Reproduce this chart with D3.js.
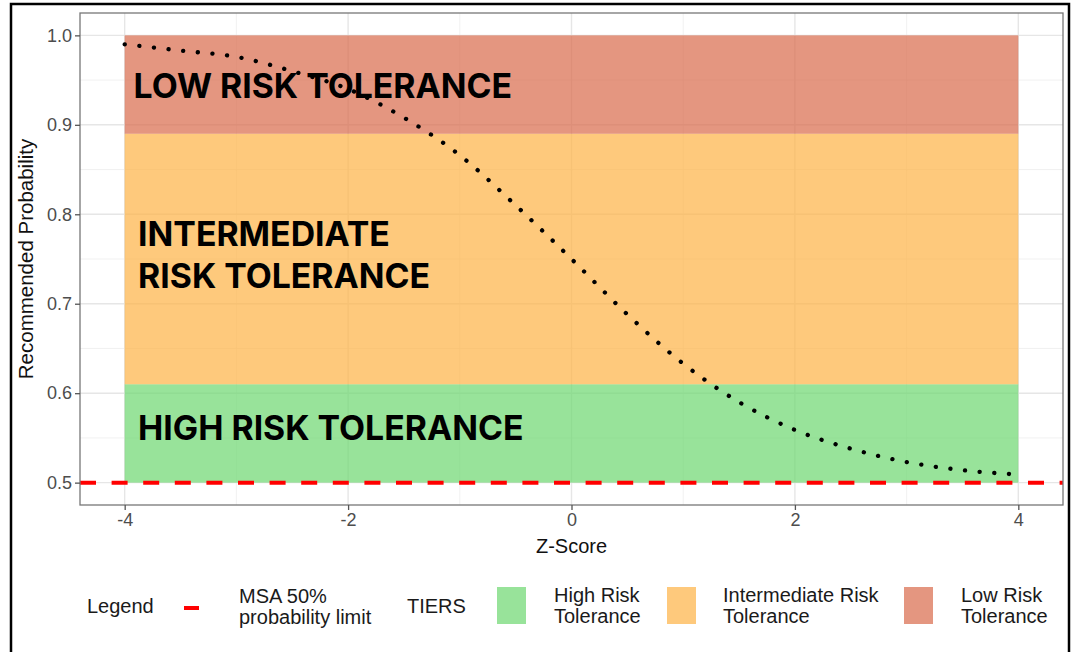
<!DOCTYPE html>
<html>
<head>
<meta charset="utf-8">
<script src="https://cdn.jsdelivr.net/npm/d3@7"></script>
<style>
  body { margin: 0; background: #fff; }
  svg { display: block; font-family: "Liberation Sans", Arial, sans-serif; }
</style>
</head>
<body>
<div id="chart"></div>
<script>
// curve
const zScores = [-4, -3.5, -3, -2.5, -2, -1.5, -1, -0.5, 0, 0.5, 1, 1.5, 2, 2.5, 3, 3.5, 4];
const recProb = [0.990, 0.983, 0.976, 0.960, 0.940, 0.908, 0.866, 0.810, 0.750,
                 0.688, 0.633, 0.590, 0.559, 0.538, 0.523, 0.514, 0.509];

// tiers
const tierNames = ["High Risk Tolerance", "Intermediate Risk Tolerance", "Low Risk Tolerance"];
const tierLow = [0.5, 0.61, 0.89];
const tierHigh = [0.61, 0.89, 1.0];
const tierZ = [-4, 4];
const tierLabels = [["HIGH RISK TOLERANCE"], ["INTERMEDIATE", "RISK TOLERANCE"], ["LOW RISK TOLERANCE"]];

const msaLimit = 0.5;
const xTicks = [-4, -2, 0, 2, 4];
const yTicks = [0.5, 0.6, 0.7, 0.8, 0.9, 1.0];
const xMinor = [-3, -1, 1, 3];
const yMinor = [0.55, 0.65, 0.75, 0.85, 0.95];

const w = 1074, h = 652;
const tierColors = ["#6cd76f", "#feb244", "#d8694a"];
const tierAlpha = 0.7;

const svg = d3.select("#chart").append("svg").attr("width", w).attr("height", h);

// outer frame
svg.append("rect").attr("x", 11).attr("y", 4).attr("width", 1058).attr("height", 700)
  .attr("fill", "none").attr("stroke", "#000").attr("stroke-width", 2.5);

const xScale = d3.scaleLinear().domain([-4.4, 4.4]).range([80, 1063]);
const yScale = d3.scaleLinear().domain([0.475, 1.025]).range([505, 13]);

// grid
const grid = svg.append("g");
grid.selectAll(".gx").data(xMinor).enter().append("line")
  .attr("x1", d => xScale(d)).attr("x2", d => xScale(d)).attr("y1", 13).attr("y2", 505)
  .attr("stroke", "#ebebeb").attr("stroke-width", 0.7);
grid.selectAll(".gy").data(yMinor).enter().append("line")
  .attr("y1", d => yScale(d)).attr("y2", d => yScale(d)).attr("x1", 80).attr("x2", 1063)
  .attr("stroke", "#ebebeb").attr("stroke-width", 0.7);
grid.selectAll(".gX").data(xTicks).enter().append("line")
  .attr("x1", d => xScale(d)).attr("x2", d => xScale(d)).attr("y1", 13).attr("y2", 505)
  .attr("stroke", "#e6e6e6").attr("stroke-width", 1.4);
grid.selectAll(".gY").data(yTicks).enter().append("line")
  .attr("y1", d => yScale(d)).attr("y2", d => yScale(d)).attr("x1", 80).attr("x2", 1063)
  .attr("stroke", "#e6e6e6").attr("stroke-width", 1.4);

// tier bands
svg.selectAll(".band").data(tierNames).enter().append("rect")
  .attr("x", xScale(tierZ[0])).attr("width", xScale(tierZ[1]) - xScale(tierZ[0]))
  .attr("y", (d, i) => yScale(tierHigh[i]))
  .attr("height", (d, i) => yScale(tierLow[i]) - yScale(tierHigh[i]))
  .attr("fill", (d, i) => tierColors[i]).attr("fill-opacity", tierAlpha);

// band labels
const labelPos = [[-3.88, 0.548], [-3.88, 0.764], [-3.92, 0.930]];
tierLabels.forEach((lines, i) => {
  const t = svg.append("text")
    .attr("x", xScale(labelPos[i][0])).attr("y", yScale(labelPos[i][1]))
    .attr("font-family", "Inter, 'Open Sans', sans-serif").attr("font-weight", 700)
    .attr("font-size", 33.8).attr("fill", "#000");
  lines.forEach((ln, j) => {
    t.append("tspan").attr("x", xScale(labelPos[i][0])).attr("dy", j ? 42 : 0).text(ln);
  });
});

// MSA limit
svg.append("line")
  .attr("x1", 80).attr("x2", 1063).attr("y1", yScale(msaLimit)).attr("y2", yScale(msaLimit))
  .attr("stroke", "#ff0000").attr("stroke-width", 4).attr("stroke-dasharray", "16 15.6");

// dotted curve
const line = d3.line().x((d, i) => xScale(zScores[i])).y(d => yScale(d)).curve(d3.curveMonotoneX);
svg.append("path").datum(recProb).attr("d", line)
  .attr("fill", "none").attr("stroke", "#000").attr("stroke-width", 4.3)
  .attr("stroke-linecap", "round").attr("stroke-dasharray", "0.1 14.6");

// panel border
svg.append("rect").attr("x", 80).attr("y", 13).attr("width", 983).attr("height", 492)
  .attr("fill", "none").attr("stroke", "#777").attr("stroke-width", 1.3);

// axes
const xAxis = d3.axisBottom(xScale).tickValues(xTicks).tickSize(5).tickPadding(3).tickFormat(d3.format("d"));
const yAxis = d3.axisLeft(yScale).tickValues(yTicks).tickSize(5).tickPadding(3).tickFormat(d3.format(".1f"));

const gx = svg.append("g").attr("transform", "translate(0,505)").call(xAxis);
const gy = svg.append("g").attr("transform", "translate(80,0)").call(yAxis);
[gx, gy].forEach(g => {
  g.select(".domain").remove();
  g.selectAll(".tick line").attr("stroke", "#555").attr("stroke-width", 1.3);
  g.selectAll(".tick text").attr("fill", "#4d4d4d").attr("font-size", 18)
    .attr("font-family", "'Liberation Sans', Arial, sans-serif");
});
gx.selectAll(".tick text").text(d => d < 0 ? "-" + Math.abs(d) : d);

// axis titles
svg.append("text").attr("x", xScale(0)).attr("y", 553).attr("text-anchor", "middle")
  .attr("font-size", 20).attr("fill", "#111").text("Z-Score");
svg.append("text").attr("transform", `translate(33,${yScale(0.75)}) rotate(-90)`)
  .attr("text-anchor", "middle").attr("font-size", 20.5).attr("fill", "#111")
  .text("Recommended Probability");

// legend
const lg = svg.append("g").attr("font-size", 20).attr("fill", "#1a1a1a");
lg.append("text").attr("x", 87).attr("y", 613).text("Legend");
lg.append("line").attr("x1", 184).attr("x2", 199).attr("y1", 608).attr("y2", 608)
  .attr("stroke", "#ff0000").attr("stroke-width", 4);
const msaText = lg.append("text").attr("x", 239).attr("y", 603);
msaText.append("tspan").attr("x", 239).text("MSA 50%");
msaText.append("tspan").attr("x", 239).attr("dy", 21).text("probability limit");
lg.append("text").attr("x", 407).attr("y", 613).text("TIERS");

const keyX = [497, 667, 904];
const keyTextX = [554, 723, 961];
tierNames.forEach((name, i) => {
  lg.append("rect").attr("x", keyX[i]).attr("y", 587).attr("width", 29).attr("height", 37)
    .attr("fill", tierColors[i]).attr("fill-opacity", tierAlpha);
  const words = name.split(" ");
  const t = lg.append("text").attr("x", keyTextX[i]).attr("y", 602);
  t.append("tspan").attr("x", keyTextX[i]).text(words.slice(0, -1).join(" "));
  t.append("tspan").attr("x", keyTextX[i]).attr("dy", 21).text(words[words.length - 1]);
});
</script>
</body>
</html>
